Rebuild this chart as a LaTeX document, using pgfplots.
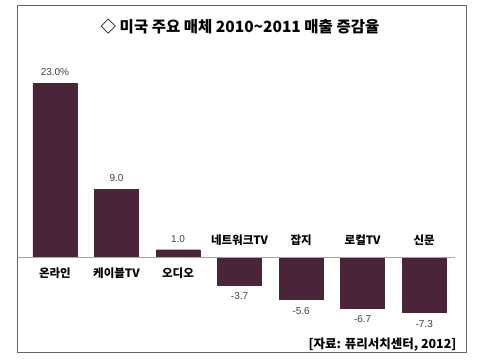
\documentclass[border=0pt]{standalone}
\usepackage{fontspec}
\setmainfont{Liberation Sans}
\newfontfamily\kr{Noto Sans CJK KR}
\usepackage{pgfplots}
\pgfplotsset{compat=1.18}
\definecolor{barc}{RGB}{74,36,56}
\definecolor{valc}{RGB}{64,64,64}
\begin{document}
\begin{tikzpicture}
\path[use as bounding box, fill=white] (0pt,0pt) rectangle (500pt,360pt);
\draw[gray!80!black, line width=0.8pt] (17pt,8pt) rectangle (466pt,355pt);
\node[font=\kr\bfseries\fontsize{15.5}{17}\selectfont] at (240pt,333pt) {◇ 미국 주요 매체 2010\textasciitilde 2011 매출 증감율};
\node[font=\kr\bfseries\fontsize{12.5}{14}\selectfont, anchor=east] at (460pt,15pt) {[자료: 퓨리서치센터, 2012]};
\begin{axis}[
  at={(18pt,27pt)}, anchor=south west,
  scale only axis, width=437pt, height=265pt,
  xmin=-0.6, xmax=6.5, ymin=-10, ymax=25,
  hide axis, clip=false,
  ybar, bar width=44pt, bar shift=0pt,
  point meta=explicit symbolic,
  nodes near coords,
  every node near coord/.append style={font=\fontsize{10}{12}\selectfont, text=valc},
]
\addplot[fill=barc, draw=barc, every node near coord/.append style={yshift=4pt}] coordinates {
(0,23.0) [23.0\%]
(1,9.0) [9.0]
(2,1.0) [1.0]
};
\addplot[fill=barc, draw=barc, every node near coord/.append style={anchor=north, yshift=-4pt}] coordinates {
(3,-3.7) [-3.7]
(4,-5.6) [-5.6]
(5,-6.7) [-6.7]
(6,-7.3) [-7.3]
};
\draw[gray!70, line width=0.8pt] (axis cs:-0.6,0) -- (axis cs:6.5,0);
\begin{scope}[every node/.style={font=\kr\bfseries\fontsize{11.5}{13}\selectfont}]
\node at (axis cs:0,-2.1) {온라인};
\node at (axis cs:1,-2.1) {케이블TV};
\node at (axis cs:2,-2.1) {오디오};
\node at (axis cs:3,2.25) {네트워크TV};
\node at (axis cs:4,2.25) {잡지};
\node at (axis cs:5,2.25) {로컬TV};
\node at (axis cs:6,2.25) {신문};
\end{scope}
\end{axis}
\end{tikzpicture}
\end{document}
